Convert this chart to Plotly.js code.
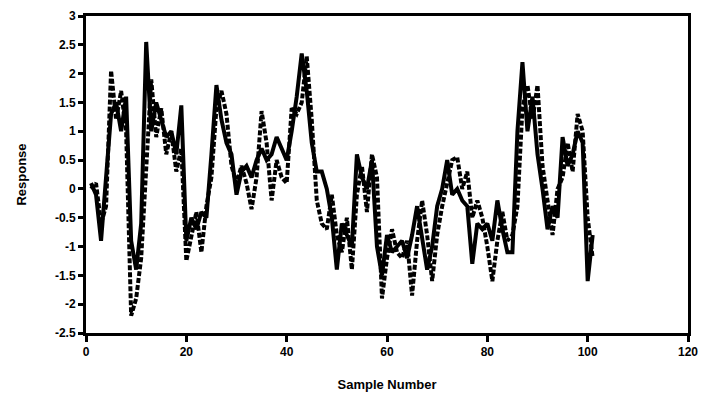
<!DOCTYPE html>
<html>
<head>
<meta charset="utf-8">
<script src="https://cdn.plot.ly/plotly-3.0.1.min.js"></script>
<style>html,body{margin:0;padding:0;background:#fff}#chart{width:706px;height:404px}</style>
</head>
<body>
<div id="chart"></div>
<script>
var sampleNumbers = [];
for (var i = 1; i <= 101; i++) sampleNumbers.push(i);

var solidSeries = [
  0.1, -0.1, -0.9, 0.2, 1.3, 1.5, 1.0, 1.6, -0.9, -1.4,
  -0.6, 2.55, 1.0, 1.5, 1.2, 0.9, 1.0, 0.6, 1.45, -0.9,
  -0.5, -0.7, -0.4, -0.5, 0.6, 1.8, 1.2, 0.8, 0.6, -0.1,
  0.3, 0.4, 0.2, 0.5, 0.7, 0.5, 0.6, 0.9, 0.7, 0.5,
  1.0, 1.6, 2.35, 1.7, 0.8, 0.3, 0.3, 0.0, -0.5, -1.4,
  -0.6, -0.8, -1.0, 0.6, 0.2, 0.0, 0.5, -1.0, -1.5, -0.8,
  -1.1, -1.0, -0.9, -1.2, -0.8, -0.3, -0.9, -1.4, -1.0, -0.3,
  0.0, 0.5, -0.1, 0.0, -0.2, -0.3, -1.3, -0.6, -0.7, -0.6,
  -0.9, -0.2, -0.7, -1.1, -1.1, 1.0, 2.2, 1.0, 1.6, 0.6,
  0.0, -0.7, -0.3, -0.5, 0.9, 0.4, 0.6, 1.0, 0.8, -1.6,
  -0.8
];

var dottedSeries = [
  0.0, 0.1, -0.6, -0.3, 2.05, 1.2, 1.7, 1.0, -2.2, -1.9,
  -1.2, 0.3, 1.9, 0.9, 1.4, 0.6, 1.0, 0.3, 0.7, -1.25,
  -0.8, -0.4, -1.1, -0.3, 0.2, 1.4, 1.7, 1.3, 0.4, 0.1,
  0.4, 0.1, -0.35, 0.2, 1.35, 0.8, -0.2, 0.5, 0.2, 0.1,
  1.4, 1.3, 1.5, 2.3, 1.2, -0.2, -0.6, -0.7, -0.1, -0.8,
  -1.1, -0.5, -1.4, -0.1, 0.4, -0.4, 0.6, 0.2, -1.9, -1.2,
  -0.7, -1.1, -1.2, -0.9, -1.85, -0.9, -0.2, -0.8, -1.6, -0.8,
  -0.3, 0.1, 0.5, 0.55, 0.0, 0.3, -0.5, -0.2, -0.5, -1.0,
  -1.6, -0.9, -0.4, -0.9, -0.8, -0.3, 1.4, 1.8, 1.2, 1.8,
  0.4, -0.2, -0.8, 0.0, 0.2, 0.8, 0.3, 1.3, 1.0, -0.5,
  -1.2
];

var xTickValues = [0, 20, 40, 60, 80, 100, 120];
var yTickValues = [-2.5, -2, -1.5, -1, -0.5, 0, 0.5, 1, 1.5, 2, 2.5, 3];
var yTickLabels = ['-2.5', '-2', '-1.5', '-1', '-0.5', '0', '0.5', '1', '1.5', '2', '2.5', '3'];

var fontFamily = 'Liberation Sans, Arial, sans-serif';

var traces = [
  {
    x: sampleNumbers, y: solidSeries, type: 'scatter', mode: 'lines',
    line: {color: '#000', width: 4}, showlegend: false, hoverinfo: 'skip'
  },
  {
    x: sampleNumbers, y: dottedSeries, type: 'scatter', mode: 'lines',
    line: {color: '#000', width: 4, dash: '5px,2px'}, showlegend: false, hoverinfo: 'skip'
  }
];

var layout = {
  width: 706, height: 404,
  margin: {l: 86, r: 18, t: 16, b: 71},
  paper_bgcolor: '#fff', plot_bgcolor: '#fff',
  font: {family: fontFamily, color: '#000', size: 12, weight: 'bold'},
  xaxis: {
    range: [0, 120], tickvals: xTickValues, ticktext: xTickValues.map(String),
    showgrid: false, zeroline: false, showline: true, linewidth: 3, linecolor: '#000', mirror: true,
    ticks: 'outside', ticklen: 6, tickwidth: 3, tickcolor: '#000',
    tickfont: {family: fontFamily, size: 12, weight: 'bold'},
    title: {text: 'Sample Number', font: {family: fontFamily, size: 13, weight: 'bold'}, standoff: 22}
  },
  yaxis: {
    range: [-2.5, 3], tickvals: yTickValues, ticktext: yTickLabels,
    showgrid: false, zeroline: false, showline: true, linewidth: 3, linecolor: '#000', mirror: true,
    ticks: 'outside', ticklen: 5, tickwidth: 3, tickcolor: '#000',
    tickfont: {family: fontFamily, size: 12, weight: 'bold'},
    title: {text: 'Response', font: {family: fontFamily, size: 13, weight: 'bold'}, standoff: 26}
  }
};

Plotly.newPlot('chart', traces, layout, {staticPlot: true, displayModeBar: false});
</script>
</body>
</html>
